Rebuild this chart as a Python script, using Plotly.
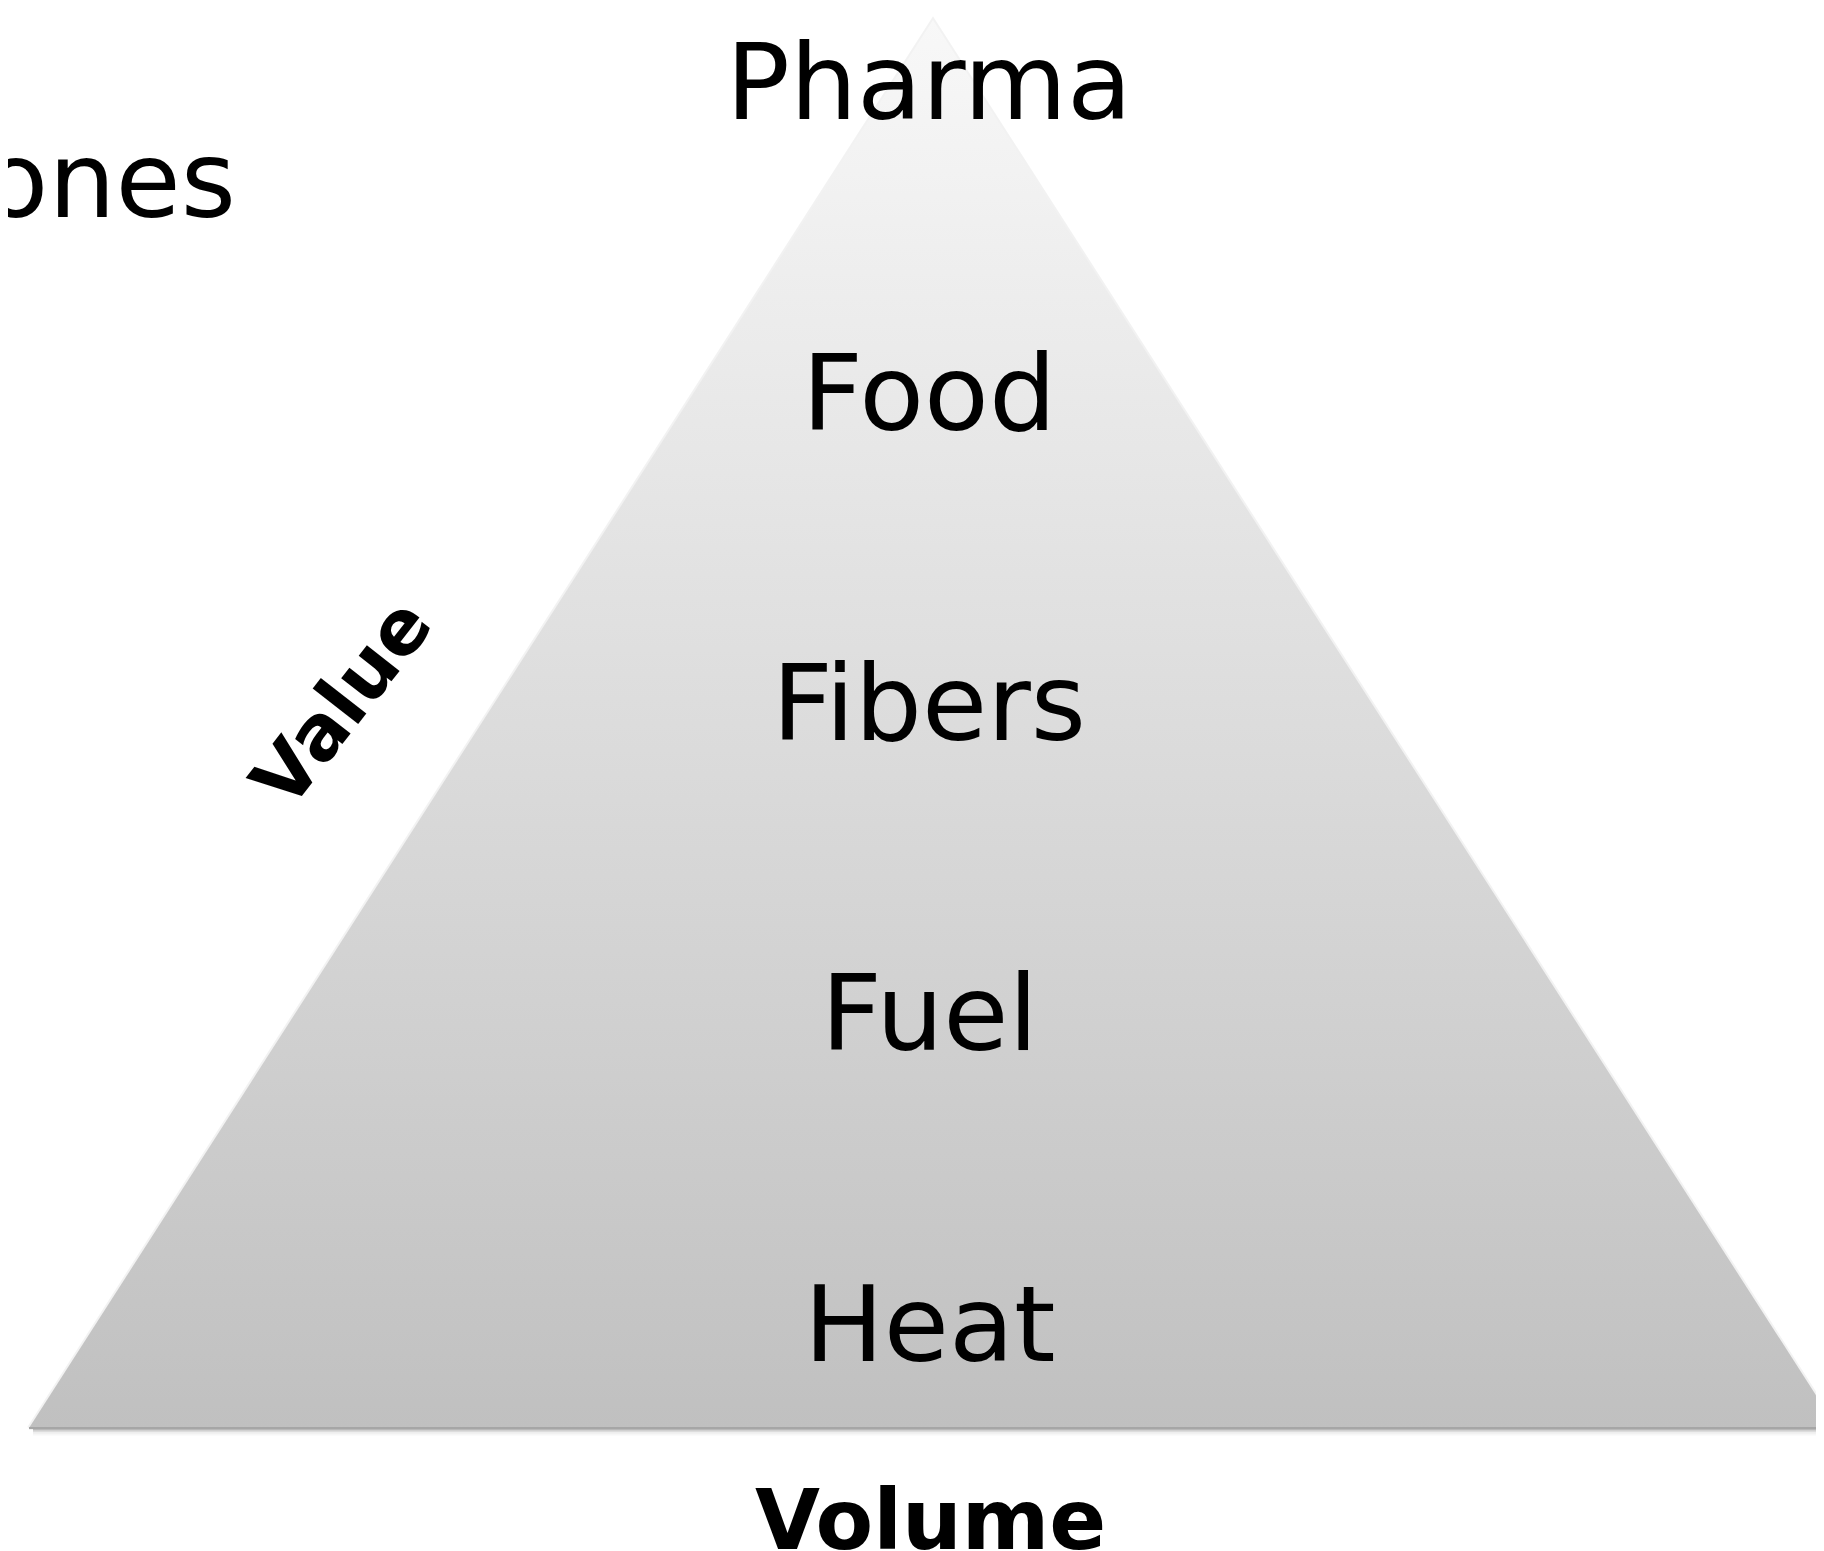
import plotly.graph_objects as go

# Pyramid outline (canvas pixel coordinates: x right, y down)
tri_x = [21, 925, 1829, 21]
tri_y = [1420, 12, 1420, 1420]

# Tiers from the base upward
tiers = ["Heat", "Fuel", "Fibers", "Food", "Pharma"]
tier_center_y = [1316, 1005, 695, 385, 74]
side_label = "Hormones"
axis_value = "Value"
axis_volume = "Volume"

W, H = 1824, 1551
FONT = "DejaVu Sans"

fig = go.Figure()

# soft shadow under the base
for off, op in [(6, 0.03), (4, 0.05), (2.5, 0.09), (1, 0.16)]:
    fig.add_trace(go.Scatter(
        x=[tri_x[0] + 4, tri_x[2]], y=[tri_y[0] + off, tri_y[2] + off],
        mode="lines", line=dict(color=f"rgba(0,0,0,{op})", width=3),
        hoverinfo="skip", showlegend=False))

# side edge softness
fig.add_trace(go.Scatter(
    x=tri_x, y=tri_y, mode="lines",
    line=dict(color="rgba(0,0,0,0.05)", width=4),
    hoverinfo="skip", showlegend=False))

fig.add_trace(go.Scatter(
    x=tri_x, y=tri_y, mode="lines", fill="toself",
    line=dict(color="rgba(0,0,0,0)", width=0),
    fillgradient=dict(type="vertical", start=12, stop=1420,
                      colorscale=[[0, "#f8f8f8"], [1, "#c0c0c0"]]),
    hoverinfo="skip", showlegend=False))

# darker base line
fig.add_trace(go.Scatter(
    x=[tri_x[0], tri_x[2]], y=[tri_y[0], tri_y[2]], mode="lines",
    line=dict(color="#a6a6a6", width=2),
    hoverinfo="skip", showlegend=False))

ann = []
for name, cy in zip(tiers, tier_center_y):
    ann.append(dict(x=921, y=cy, text=name, showarrow=False,
                    xanchor="center", yanchor="middle",
                    font=dict(family=FONT, size=106, color="black")))
ann.append(dict(x=230, y=172, text=side_label, showarrow=False,
                xanchor="right", yanchor="middle",
                font=dict(family=FONT, size=106, color="black")))
ann.append(dict(x=333, y=694, text=f"<b>{axis_value}</b>", showarrow=False,
                xanchor="center", yanchor="middle", textangle=-52,
                font=dict(family=FONT, size=76, color="black")))
ann.append(dict(x=922, y=1512, text=f"<b>{axis_volume}</b>", showarrow=False,
                xanchor="center", yanchor="middle",
                font=dict(family=FONT, size=84, color="black")))

fig.update_layout(
    width=W, height=H,
    margin=dict(l=0, r=0, t=0, b=0),
    paper_bgcolor="white", plot_bgcolor="white",
    xaxis=dict(range=[0, W], visible=False, fixedrange=True),
    yaxis=dict(range=[H, 0], visible=False, fixedrange=True),
    annotations=ann,
    showlegend=False,
)

fig.write_html("out.html")
